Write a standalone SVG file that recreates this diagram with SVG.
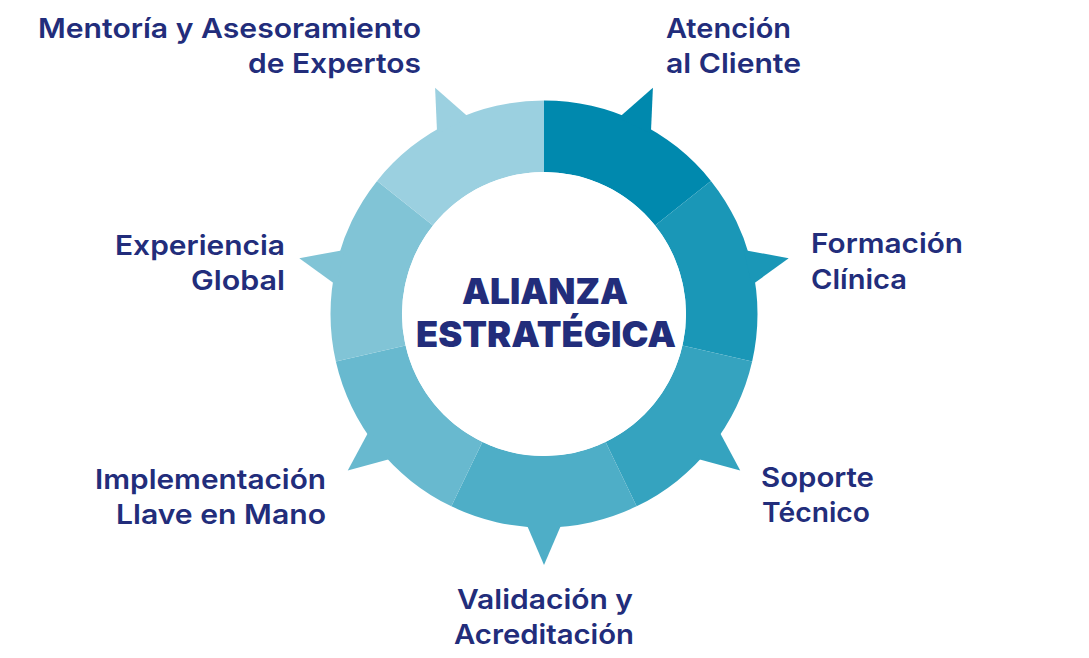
<svg xmlns="http://www.w3.org/2000/svg" xmlns:xlink="http://www.w3.org/1999/xlink" width="1089" height="658" viewBox="0 0 1089 658">
  <style>
    .lbl { font-family: "Inter", "Lato", "Liberation Sans", sans-serif; font-weight: 600; font-size: 27.5px; fill: #222D7B; }
    .title { font-family: "Inter", "Lato", "Liberation Sans", sans-serif; font-weight: 900; font-size: 35px; fill: #222D7B; text-anchor: middle; }
    .s1 { fill: #0089AE; } .s2 { fill: #1A97B7; } .s3 { fill: #35A3BF; } .s4 { fill: #4EAEC7; }
    .s5 { fill: #68B9CF; } .s6 { fill: #81C4D6; } .s7 { fill: #9BD0E0; }
  </style>
  <defs>
    <polygon id="tooth" points="-18,-209 18,-209 0,-251"/>
  </defs>
  <rect width="1089" height="658" fill="#ffffff"/>

  <g id="connectors"></g>

  <g id="node-atencion">
    <path class="s1" d="M544,100.5 A213.5,213.5 0 0 1 710.92,180.88 L655.02,225.46 A142,142 0 0 0 544,172 Z"/>
    <use xlink:href="#tooth" class="s1" transform="translate(544 314) rotate(25.714)"/>
    <text class="lbl" x="666" y="38" textLength="125" lengthAdjust="spacingAndGlyphs">Atención</text>
    <text class="lbl" x="666" y="73" textLength="135" lengthAdjust="spacingAndGlyphs">al Cliente</text>
  </g>

  <g id="node-formacion">
    <path class="s2" d="M710.92,180.88 A213.5,213.5 0 0 1 752.15,361.51 L682.44,345.60 A142,142 0 0 0 655.02,225.46 Z"/>
    <use xlink:href="#tooth" class="s2" transform="translate(544 314) rotate(77.143)"/>
    <text class="lbl" x="811" y="253" textLength="152" lengthAdjust="spacingAndGlyphs">Formación</text>
    <text class="lbl" x="811" y="289" textLength="96" lengthAdjust="spacingAndGlyphs">Clínica</text>
  </g>

  <g id="node-soporte">
    <path class="s3" d="M752.15,361.51 A213.5,213.5 0 0 1 636.63,506.36 L605.61,441.94 A142,142 0 0 0 682.44,345.60 Z"/>
    <use xlink:href="#tooth" class="s3" transform="translate(544 314) rotate(128.571)"/>
    <text class="lbl" x="761" y="487" textLength="113" lengthAdjust="spacingAndGlyphs">Soporte</text>
    <text class="lbl" x="762" y="522" textLength="108" lengthAdjust="spacingAndGlyphs">Técnico</text>
  </g>

  <g id="node-validacion">
    <path class="s4" d="M636.63,506.36 A213.5,213.5 0 0 1 451.37,506.36 L482.39,441.94 A142,142 0 0 0 605.61,441.94 Z"/>
    <use xlink:href="#tooth" class="s4" transform="translate(544 314) rotate(180)"/>
    <text class="lbl" x="545" y="609" text-anchor="middle" textLength="176" lengthAdjust="spacingAndGlyphs">Validación y</text>
    <text class="lbl" x="544" y="644" text-anchor="middle" textLength="180" lengthAdjust="spacingAndGlyphs">Acreditación</text>
  </g>

  <g id="node-implementacion">
    <path class="s5" d="M451.37,506.36 A213.5,213.5 0 0 1 335.85,361.51 L405.56,345.60 A142,142 0 0 0 482.39,441.94 Z"/>
    <use xlink:href="#tooth" class="s5" transform="translate(544 314) rotate(231.429)"/>
    <text class="lbl" x="326" y="489" text-anchor="end" textLength="231" lengthAdjust="spacingAndGlyphs">Implementación</text>
    <text class="lbl" x="326" y="524" text-anchor="end" textLength="210" lengthAdjust="spacingAndGlyphs">Llave en Mano</text>
  </g>

  <g id="node-experiencia">
    <path class="s6" d="M335.85,361.51 A213.5,213.5 0 0 1 377.08,180.88 L432.98,225.46 A142,142 0 0 0 405.56,345.60 Z"/>
    <use xlink:href="#tooth" class="s6" transform="translate(544 314) rotate(282.857)"/>
    <text class="lbl" x="285" y="255" text-anchor="end" textLength="170" lengthAdjust="spacingAndGlyphs">Experiencia</text>
    <text class="lbl" x="285" y="290" text-anchor="end" textLength="94" lengthAdjust="spacingAndGlyphs">Global</text>
  </g>

  <g id="node-mentoria">
    <path class="s7" d="M377.08,180.88 A213.5,213.5 0 0 1 544,100.5 L544,172 A142,142 0 0 0 432.98,225.46 Z"/>
    <use xlink:href="#tooth" class="s7" transform="translate(544 314) rotate(334.286)"/>
    <text class="lbl" x="421" y="38" text-anchor="end" textLength="383" lengthAdjust="spacingAndGlyphs">Mentoría y Asesoramiento</text>
    <text class="lbl" x="421" y="73" text-anchor="end" textLength="173" lengthAdjust="spacingAndGlyphs">de Expertos</text>
  </g>

  <g id="node-center">
    <circle cx="544" cy="314" r="142" fill="#ffffff"/>
    <text class="title" x="545" y="304" textLength="166" lengthAdjust="spacingAndGlyphs">ALIANZA</text>
    <text class="title" x="546" y="347" textLength="260" lengthAdjust="spacingAndGlyphs">ESTRATÉGICA</text>
  </g>
</svg>
